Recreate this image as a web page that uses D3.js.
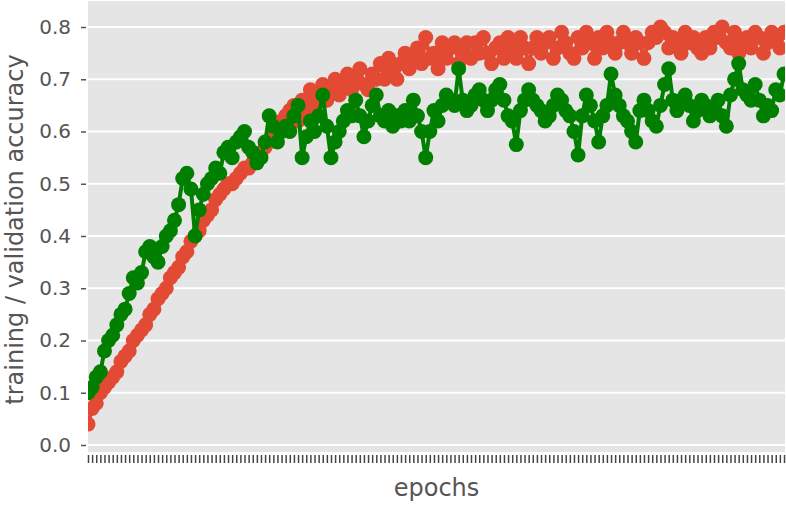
<!DOCTYPE html>
<html>
<head>
<meta charset="utf-8">
<script src="https://cdn.jsdelivr.net/npm/d3@7"></script>
<style>
  body { margin: 0; background: #fff; }
  text { font-family: "DejaVu Sans", sans-serif; fill: #555; }
</style>
</head>
<body>
<svg id="chart" width="786" height="505"></svg>
<script>
// training accuracy per epoch (red)
const trainAcc = [
  0.04, 0.07, 0.08, 0.10, 0.11, 0.12, 0.13, 0.14, 0.16, 0.17,
  0.18, 0.20, 0.21, 0.22, 0.23, 0.25, 0.26, 0.28, 0.29, 0.30,
  0.32, 0.33, 0.34, 0.36, 0.37, 0.39, 0.40, 0.41, 0.43, 0.44,
  0.45, 0.47, 0.48, 0.49, 0.50, 0.50, 0.51, 0.52, 0.53, 0.53,
  0.54, 0.55, 0.56, 0.57, 0.58, 0.59, 0.61, 0.62, 0.63, 0.64,
  0.65, 0.62, 0.66, 0.64, 0.68, 0.65, 0.67, 0.69, 0.66, 0.68,
  0.70, 0.67, 0.69, 0.71, 0.68, 0.70, 0.72, 0.69, 0.68, 0.71,
  0.70, 0.73, 0.70, 0.74, 0.72, 0.70, 0.73, 0.75, 0.72, 0.74,
  0.76, 0.73, 0.78, 0.74, 0.75, 0.72, 0.77, 0.74, 0.76, 0.77,
  0.73, 0.75, 0.77, 0.74, 0.77, 0.75, 0.78, 0.75, 0.73, 0.76,
  0.77, 0.74, 0.78, 0.76, 0.74, 0.78, 0.76, 0.73, 0.76, 0.78,
  0.75, 0.77, 0.78, 0.74, 0.76, 0.79, 0.77, 0.75, 0.74, 0.78,
  0.76, 0.79, 0.77, 0.74, 0.78, 0.76, 0.79, 0.77, 0.75, 0.77,
  0.79, 0.77, 0.75, 0.78, 0.77, 0.74, 0.77, 0.79, 0.78, 0.80,
  0.79, 0.76, 0.78, 0.77, 0.75, 0.79, 0.77, 0.78, 0.76, 0.75,
  0.78, 0.76, 0.79, 0.78, 0.80, 0.77, 0.76, 0.79, 0.75, 0.77,
  0.78, 0.76, 0.79, 0.78, 0.75, 0.77, 0.79, 0.78, 0.76, 0.79
];

// validation accuracy per epoch (green)
const valAcc = [
  0.10, 0.11, 0.13, 0.14, 0.18, 0.20, 0.21, 0.23, 0.25, 0.26,
  0.29, 0.32, 0.31, 0.33, 0.37, 0.38, 0.36, 0.35, 0.38, 0.40,
  0.41, 0.43, 0.46, 0.51, 0.52, 0.49, 0.40, 0.45, 0.48, 0.50,
  0.51, 0.53, 0.52, 0.56, 0.57, 0.55, 0.58, 0.59, 0.60, 0.57,
  0.56, 0.54, 0.55, 0.58, 0.63, 0.61, 0.58, 0.60, 0.61, 0.60,
  0.63, 0.65, 0.55, 0.59, 0.62, 0.60, 0.63, 0.67, 0.61, 0.55,
  0.58, 0.60, 0.62, 0.64, 0.63, 0.66, 0.63, 0.59, 0.62, 0.65,
  0.67, 0.63, 0.62, 0.64, 0.61, 0.63, 0.62, 0.64, 0.62, 0.66,
  0.63, 0.60, 0.55, 0.60, 0.64, 0.62, 0.65, 0.67, 0.66, 0.65,
  0.72, 0.66, 0.64, 0.65, 0.67, 0.68, 0.66, 0.64, 0.66, 0.68,
  0.69, 0.66, 0.63, 0.62, 0.575, 0.64, 0.66, 0.68, 0.66, 0.65,
  0.64, 0.62, 0.63, 0.65, 0.67, 0.66, 0.64, 0.63, 0.60, 0.555,
  0.63, 0.67, 0.65, 0.62, 0.58, 0.63, 0.65, 0.71, 0.67, 0.65,
  0.63, 0.62, 0.60, 0.58, 0.64, 0.66, 0.64, 0.62, 0.61, 0.65,
  0.69, 0.72, 0.66, 0.64, 0.66, 0.67, 0.65, 0.62, 0.64, 0.66,
  0.65, 0.63, 0.64, 0.66, 0.63, 0.61, 0.67, 0.70, 0.73, 0.68,
  0.67, 0.66, 0.69, 0.66, 0.63, 0.65, 0.64, 0.68, 0.67, 0.71
];

const yTicks = [0.0, 0.1, 0.2, 0.3, 0.4, 0.5, 0.6, 0.7, 0.8];
const xLabel = 'epochs';
const yLabel = 'training / validation accuracy';

const svg = d3.select('#chart');
const plot = {left: 88, right: 785, top: 1, bottom: 452};
const epochs = d3.range(trainAcc.length);

const x = d3.scaleLinear()
  .domain([0, epochs.length - 1])
  .range([plot.left, plot.right - 1]);
const y = d3.scaleLinear()
  .domain([-0.0134, 0.8498])
  .range([plot.bottom, plot.top]);

svg.append('defs').append('clipPath').attr('id', 'clip')
  .append('rect')
  .attr('x', plot.left).attr('y', plot.top)
  .attr('width', plot.right - plot.left)
  .attr('height', plot.bottom - plot.top);

svg.append('rect')
  .attr('x', plot.left).attr('y', plot.top)
  .attr('width', plot.right - plot.left)
  .attr('height', plot.bottom - plot.top)
  .attr('fill', '#e5e5e5');

// white grid
svg.append('g').selectAll('line')
  .data(yTicks)
  .enter().append('line')
  .attr('x1', plot.left).attr('x2', plot.right)
  .attr('y1', d => y(d)).attr('y2', d => y(d))
  .attr('stroke', '#fff')
  .attr('stroke-width', 1.8);

// y axis
const yAxis = svg.append('g')
  .attr('transform', `translate(${plot.left - 2},0)`)
  .call(d3.axisLeft(y).tickValues(yTicks).tickFormat(d3.format('.1f')).tickSize(5).tickPadding(10));
yAxis.select('.domain').remove();
yAxis.selectAll('line').attr('stroke', '#555').attr('stroke-width', 1.5);
yAxis.selectAll('text').attr('font-size', 20).attr('fill', '#555')
  .style('font-family', '"DejaVu Sans", sans-serif');

// x axis: one tick per epoch, no labels
const xAxis = svg.append('g')
  .attr('transform', `translate(0,${plot.bottom + 3})`)
  .call(d3.axisBottom(x).tickValues(epochs).tickFormat('').tickSize(8));
xAxis.select('.domain').remove();
xAxis.selectAll('line').attr('stroke', '#444').attr('stroke-width', 1.5);

const line = d3.line()
  .x((d, i) => x(i))
  .y(d => y(d));

const drawSeries = (data, color) => {
  const g = svg.append('g').attr('clip-path', 'url(#clip)');
  g.append('path')
    .datum(data)
    .attr('d', line)
    .attr('fill', 'none')
    .attr('stroke', color)
    .attr('stroke-width', 4);
  g.selectAll('circle')
    .data(data)
    .enter().append('circle')
    .attr('cx', (d, i) => x(i))
    .attr('cy', d => y(d))
    .attr('r', 7.5)
    .attr('fill', color);
};

drawSeries(trainAcc, '#e24a33');
drawSeries(valAcc, '#007f00');

svg.append('text')
  .attr('x', (plot.left + plot.right) / 2)
  .attr('y', 496)
  .attr('text-anchor', 'middle')
  .attr('font-size', 24)
  .text(xLabel);

svg.append('text')
  .attr('transform', `translate(23,${(plot.top + plot.bottom) / 2 + 3}) rotate(-90)`)
  .attr('text-anchor', 'middle')
  .attr('font-size', 24)
  .text(yLabel);
</script>
</body>
</html>
